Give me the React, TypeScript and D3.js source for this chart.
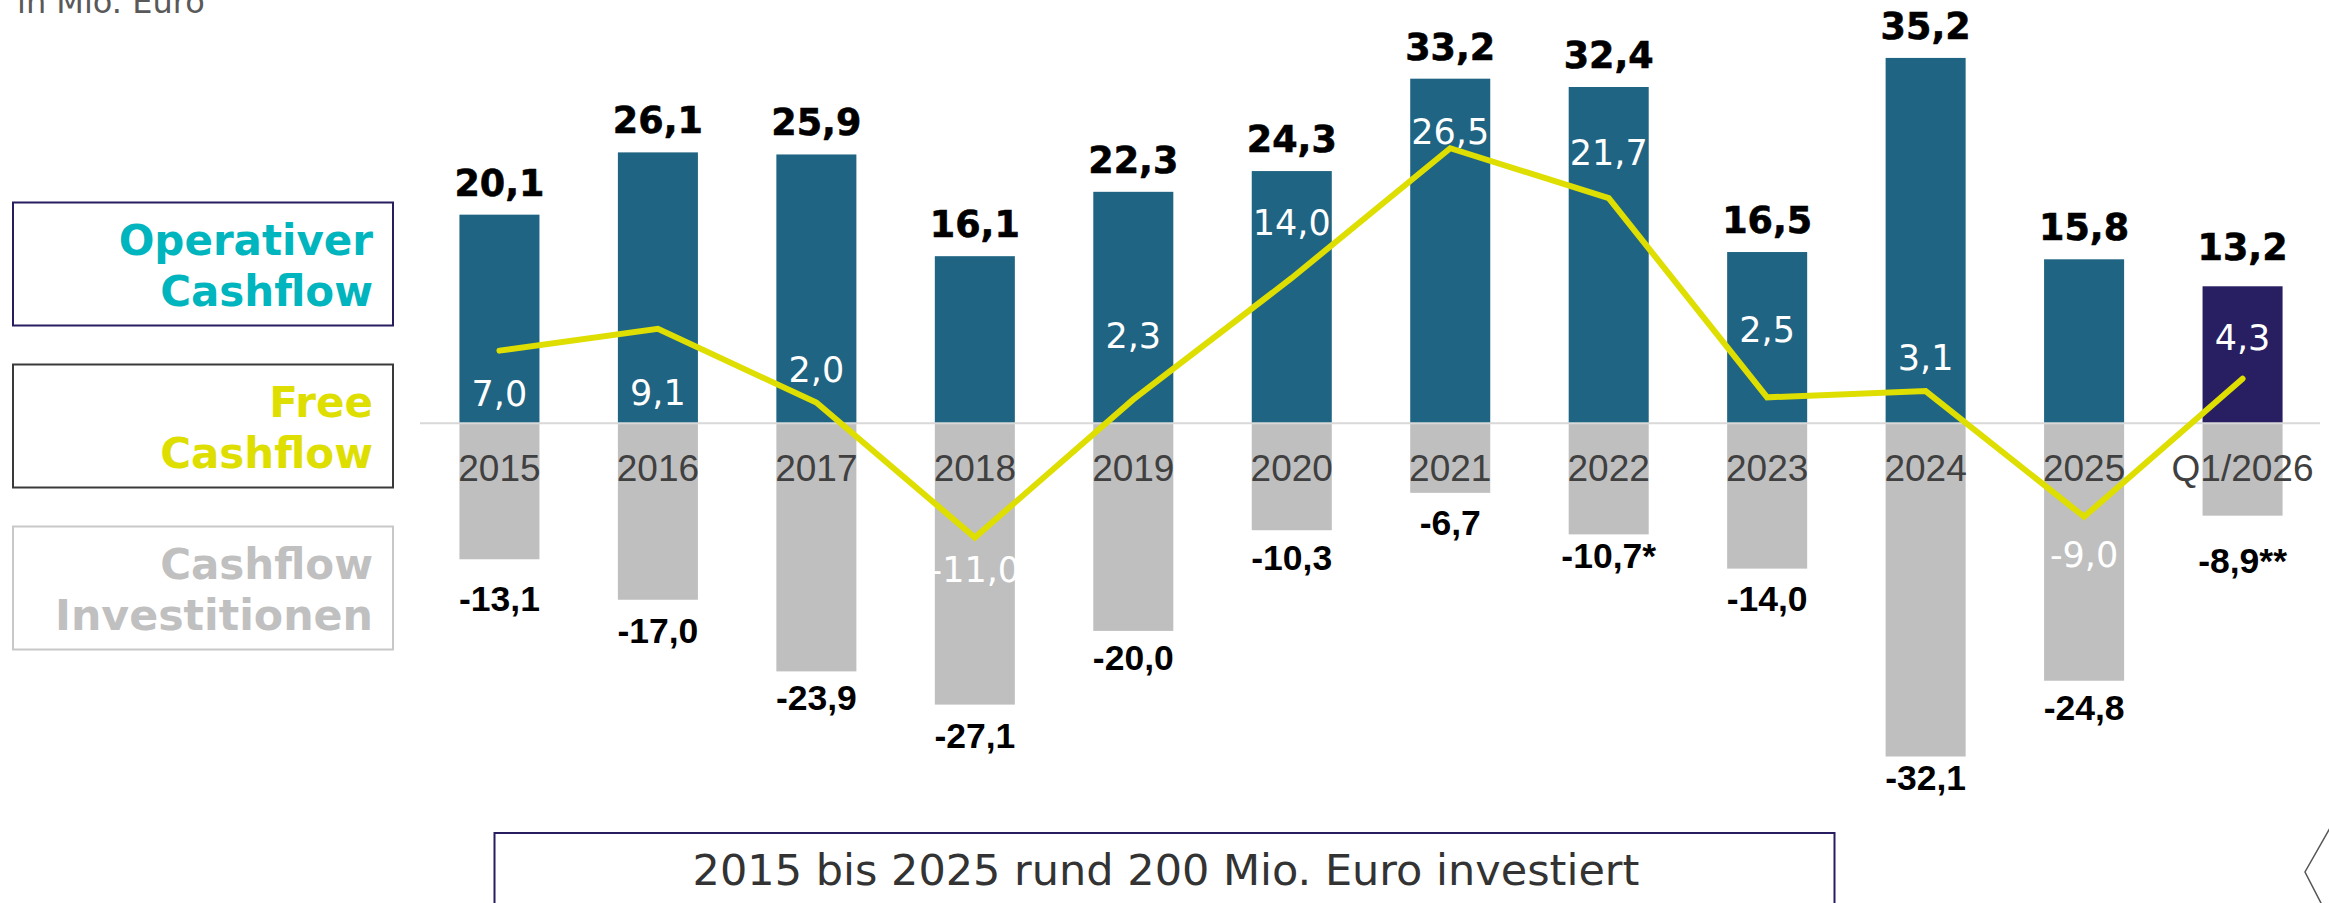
import React from 'react';
import * as d3 from 'd3';

// ---- data ----
const categories = ['2015', '2016', '2017', '2018', '2019', '2020', '2021', '2022', '2023', '2024', '2025', 'Q1/2026'];
const operatingCashflow = [20.1, 26.1, 25.9, 16.1, 22.3, 24.3, 33.2, 32.4, 16.5, 35.2, 15.8, 13.2];
const investmentCashflow = [-13.1, -17.0, -23.9, -27.1, -20.0, -10.3, -6.7, -10.7, -14.0, -32.1, -24.8, -8.9];
const freeCashflow = [7.0, 9.1, 2.0, -11.0, 2.3, 14.0, 26.5, 21.7, 2.5, 3.1, -9.0, 4.3];
const investmentNotes = ['', '', '', '', '', '', '', '*', '', '', '', '**'];
const legendItems = [
  { lines: ['Operativer', 'Cashflow'], color: '#00b5bd', border: '#271d5f' },
  { lines: ['Free', 'Cashflow'], color: '#dede00', border: '#3a3a3a' },
  { lines: ['Cashflow', 'Investitionen'], color: '#c0c0c0', border: '#c8c8c8' },
];
const unitLabel = 'in Mio. Euro';
const footerText = '2015 bis 2025 rund 200 Mio. Euro investiert';

// ---- layout tweaks for hand-placed labels (pixel offsets from the value position) ----
const fcfLabelDy = [55, 76, -21, 45, -51, -43, -4, -33, -55, -21, 50, -29];
const invLabelDy = [52, 43, 39, 43, 39, 40, 42, 34, 42, 34, 39, 57];
const opLabelDy = [-19, -19, -19, -19, -19, -19, -19, -19, -19, -19, -19, -26];

const W = 2329;
const H = 903;
const fmt = (v: number) => d3.format('.1f')(v).replace('.', ',').replace('−', '-');

export default function App() {
  const x = d3
    .scaleBand<string>()
    .domain(categories)
    .range([421, 2321])
    .paddingInner(0.495)
    .paddingOuter(0.2425);
  const y = d3.scaleLinear().domain([-35, 40]).range([786.6, 8.1]);
  const bw = x.bandwidth();
  const cx = (c: string) => (x(c) as number) + bw / 2;

  const line = d3
    .line<number>()
    .x((_, i) => cx(categories[i]))
    .y((d) => y(d));

  const sans = "'DejaVu Sans', Verdana, sans-serif";
  const arial = "'Liberation Sans', Arial, sans-serif";

  return (
    <svg width={W} height={H} style={{ position: 'absolute', left: 0, top: 0, display: 'block', background: '#fff' }}>
      <text x={17} y={13} fontFamily={sans} fontSize={32} fill="#595959">{unitLabel}</text>

      {/* legend boxes */}
      {legendItems.map((item, i) => {
        const top = 202.5 + i * 162;
        return (
          <g key={i}>
            <rect x={13} y={top} width={380} height={123} fill="#fff" stroke={item.border} strokeWidth={2} />
            {item.lines.map((t, j) => (
              <text
                key={j}
                x={373}
                y={top + 52 + j * 51}
                textAnchor="end"
                fontFamily={sans}
                fontWeight="bold"
                fontSize={42}
                fill={item.color}
                {...(t === 'Investitionen' ? { textLength: 318, lengthAdjust: 'spacingAndGlyphs' } : {})}
              >
                {t}
              </text>
            ))}
          </g>
        );
      })}

      {/* bars */}
      {categories.map((c, i) => (
        <g key={c}>
          <rect
            x={x(c)}
            y={y(operatingCashflow[i])}
            width={bw}
            height={y(0) - y(operatingCashflow[i])}
            fill={i === categories.length - 1 ? '#281f62' : '#1f6482'}
          />
          <rect x={x(c)} y={y(0)} width={bw} height={y(investmentCashflow[i]) - y(0)} fill="#bfbfbf" />
        </g>
      ))}

      {/* zero line */}
      <line x1={420} x2={2320} y1={y(0)} y2={y(0)} stroke="#d9d9d9" strokeWidth={2} />

      {/* category labels */}
      {categories.map((c) => (
        <text key={c} x={cx(c)} y={481} textAnchor="middle" fontFamily={arial} fontSize={37} fill="#404040">
          {c}
        </text>
      ))}

      {/* free cashflow line */}
      <path d={line(freeCashflow) || ''} fill="none" stroke="#dede00" strokeWidth={6} strokeLinecap="round" strokeLinejoin="miter" />

      {/* operating labels */}
      {categories.map((c, i) => (
        <text
          key={c}
          x={cx(c)}
          y={y(operatingCashflow[i]) + opLabelDy[i]}
          textAnchor="middle"
          fontFamily={sans}
          fontWeight="bold"
          fontSize={36.5}
          fill="#000"
          stroke="#000"
          strokeWidth={0.6}
        >
          {fmt(operatingCashflow[i])}
        </text>
      ))}

      {/* investment labels */}
      {categories.map((c, i) => (
        <text
          key={c}
          x={cx(c)}
          y={y(investmentCashflow[i]) + invLabelDy[i]}
          textAnchor="middle"
          fontFamily={arial}
          fontWeight="bold"
          fontSize={35.5}
          fill="#000"
        >
          {fmt(investmentCashflow[i]) + investmentNotes[i]}
        </text>
      ))}

      {/* free cashflow labels */}
      {categories.map((c, i) => (
        <text
          key={c}
          x={cx(c)}
          y={y(freeCashflow[i]) + fcfLabelDy[i]}
          textAnchor="middle"
          fontFamily={sans}
          fontSize={35}
          fill="#fff"
        >
          {fmt(freeCashflow[i])}
        </text>
      ))}

      {/* footer box */}
      <rect x={494.5} y={833} width={1340} height={100} fill="#fff" stroke="#271d5f" strokeWidth={2} />
      <text x={1166} y={885} textAnchor="middle" fontFamily={sans} fontSize={43} fill="#333">
        {footerText}
      </text>

      {/* decorative chevron at the bottom right */}
      <polyline points="2330,828 2305,872 2322,905" fill="none" stroke="#555" strokeWidth={1.5} />
    </svg>
  );
}
